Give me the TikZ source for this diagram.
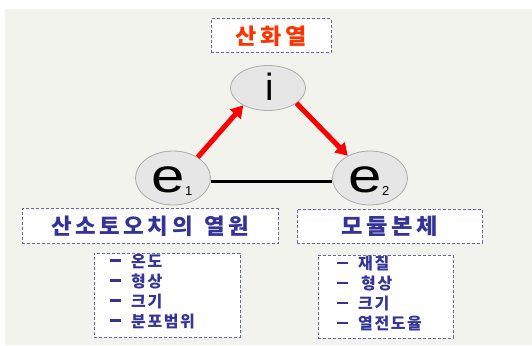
\documentclass[tikz,border=0pt]{standalone}
\usepackage{fontspec}
\setmainfont{Liberation Sans}
\newfontfamily\kr{Noto Sans CJK KR}
\newfontfamily\krw{Noto Sans CJK KR}[LetterSpace=16]
\newfontfamily\krl{Noto Sans CJK KR}[LetterSpace=10]
\usetikzlibrary{shapes.geometric,arrows.meta}
\definecolor{bgc}{HTML}{F3F3EE}
\definecolor{boxc}{HTML}{6666AA}
\definecolor{txtc}{HTML}{333399}
\definecolor{titc}{HTML}{FF3300}
\definecolor{ellf}{HTML}{E6E6E6}
\definecolor{elld}{HTML}{AAAAAA}
\newcommand{\dashmark}{\rule[5.5pt]{11pt}{2.4pt}\hspace{10pt}}
\tikzset{
  dbox/.style={draw=boxc, fill=white, line width=1pt, dash pattern=on 3pt off 2pt, inner sep=0pt},
  ell/.style={ellipse, draw=elld, fill=ellf, line width=0.8pt, inner sep=0pt},
  redarrow/.style={draw=red, line width=5pt, -{Triangle[length=12pt,width=14pt]}},
  bigtxt/.style={font=\krw\bfseries\fontsize{22}{24}\selectfont, text=txtc},
  listtxt/.style={font=\krl\bfseries\fontsize{16}{20}\selectfont, text=txtc, align=left, anchor=north west, inner sep=0pt}
}
\begin{document}
\begin{tikzpicture}[x=1pt,y=-1pt]
\useasboundingbox (0,0) rectangle (532,345);
\fill[white] (0,0) rectangle (532,345);
\fill[bgc] (5,9) rectangle (532,345);
% title
\node[dbox, minimum width=120pt, minimum height=34pt, font=\krw\bfseries\fontsize{22}{24}\selectfont, text=titc] (title) at (271,36) {\scalebox{1.05}[1]{산화열}};
% ellipses
\node[ell, minimum width=75pt, minimum height=45pt] (i) at (268,88) {};
\node[font=\fontsize{38}{40}\selectfont, inner sep=0pt] (ilab) at (270,87) {i};
\node[ell, minimum width=75pt, minimum height=54pt] (e1) at (173,178) {};
\node[inner sep=0pt] (e1lab) at (172,181) {\fontsize{48}{50}\selectfont\scalebox{1.25}[1]{e}\raisebox{-3pt}{\fontsize{13}{14}\selectfont 1}};
\node[ell, minimum width=75pt, minimum height=54pt] (e2) at (370,178) {};
\node[inner sep=0pt] (e2lab) at (369,181) {\fontsize{48}{50}\selectfont\scalebox{1.25}[1]{e}\raisebox{-3pt}{\fontsize{13}{14}\selectfont 2}};
% connectors
\draw[line width=3pt, black] (e1.east |- 0,181) -- (e2.west |- 0,181);
\draw[redarrow] (e1.40) -- (i.215);
\draw[redarrow] (i.-28) -- (e2.135);
% boxes
\node[dbox, minimum width=256pt, minimum height=35pt, bigtxt] (src) at (150,226) {\scalebox{1.02}[1]{산소토오치의\hspace{11pt}열원}};
\node[dbox, minimum width=185pt, minimum height=34pt, bigtxt] (mod) at (389.5,226) {\scalebox{1.06}[1]{모듈본체}};
\node[dbox, minimum width=146pt, minimum height=84pt] (l1) at (167,295) {};
\node[listtxt] (l1t) at (110,254) {\dashmark 온도\\\dashmark 형상\\\dashmark 크기\\\dashmark 분포범위};
\node[dbox, minimum width=135pt, minimum height=83pt] (l2) at (385.5,296.5) {};
\node[listtxt] (l2t) at (337,256) {\dashmark 재질\\\dashmark\hspace{3pt}형상\\\dashmark 크기\\\dashmark 열전도율};
\end{tikzpicture}
\end{document}
